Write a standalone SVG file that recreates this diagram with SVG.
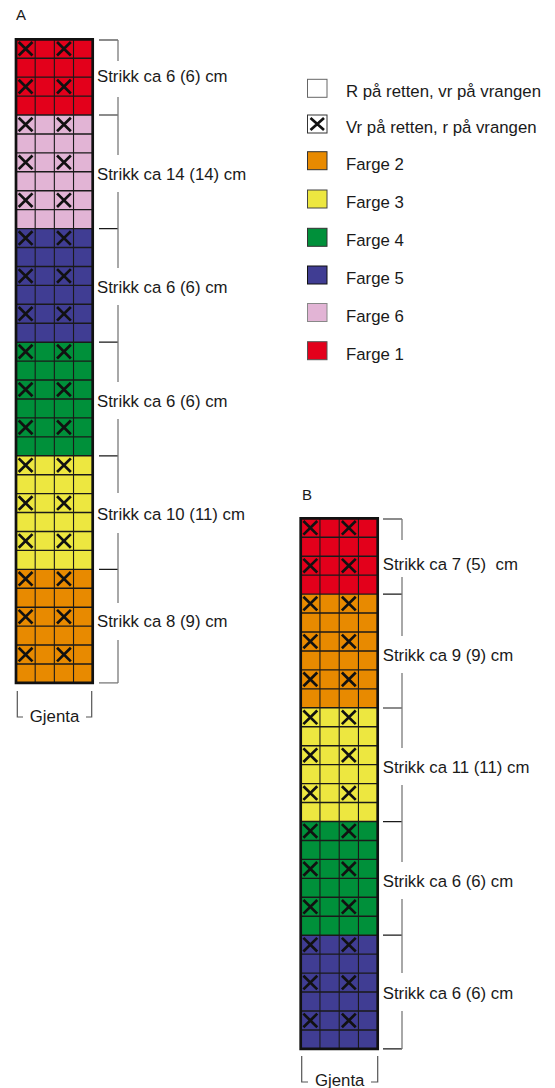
<svg xmlns="http://www.w3.org/2000/svg" xmlns:xlink="http://www.w3.org/1999/xlink" width="555" height="1088" viewBox="0 0 555 1088">
<style>
text{font-family:"Liberation Sans",Arial,sans-serif;font-size:16.8px;fill:#1a1a1a}
.c1{fill:#E3001B}.c2{fill:#E88A00}.c3{fill:#EDE740}.c4{fill:#00903A}.c5{fill:#403D93}.c6{fill:#E2B4D5}
.gh{fill:none;stroke:#1a1a1a;stroke-width:1.4}
.gv{fill:none;stroke:#1a1a1a;stroke-width:1.1}
.fr{fill:none;stroke:#111;stroke-width:2.7}
.xs{fill:none;stroke:#111;stroke-width:2.7}
.tk{fill:none;stroke:#1a1a1a;stroke-width:1.2}
.vl{fill:none;stroke:#7a7a7a;stroke-width:1.3}
.gj{fill:none;stroke:#555;stroke-width:1.2}
.lb{stroke-width:1}
</style>
<defs>
<path id="xm" d="M0.14,0.14L0.86,0.86M0.86,0.14L0.14,0.86" vector-effect="non-scaling-stroke"/>
<path id="xl" d="M3,3L16.5,15M16.5,3L3,15"/>
</defs>

<text id="labelA" x="16" y="20" style="font-size:15px">A</text>
<text id="labelB" x="302" y="500" style="font-size:15px">B</text>

<g id="chartA" transform="translate(16 39.3) scale(19.175 18.93)">
<rect class="c1" x="0" y="0" width="4" height="4"/>
<rect class="c6" x="0" y="4" width="4" height="6"/>
<rect class="c5" x="0" y="10" width="4" height="6"/>
<rect class="c4" x="0" y="16" width="4" height="6"/>
<rect class="c3" x="0" y="22" width="4" height="6"/>
<rect class="c2" x="0" y="28" width="4" height="6"/>
<path class="gh" vector-effect="non-scaling-stroke" d="M0 1H4M0 2H4M0 3H4M0 4H4M0 5H4M0 6H4M0 7H4M0 8H4M0 9H4M0 10H4M0 11H4M0 12H4M0 13H4M0 14H4M0 15H4M0 16H4M0 17H4M0 18H4M0 19H4M0 20H4M0 21H4M0 22H4M0 23H4M0 24H4M0 25H4M0 26H4M0 27H4M0 28H4M0 29H4M0 30H4M0 31H4M0 32H4M0 33H4"/>
<path class="gv" vector-effect="non-scaling-stroke" d="M1 0V34M2 0V34M3 0V34"/>
<g class="xs">
<use href="#xm" x="0" y="0"/><use href="#xm" x="2" y="0"/>
<use href="#xm" x="0" y="2"/><use href="#xm" x="2" y="2"/>
<use href="#xm" x="0" y="4"/><use href="#xm" x="2" y="4"/>
<use href="#xm" x="0" y="6"/><use href="#xm" x="2" y="6"/>
<use href="#xm" x="0" y="8"/><use href="#xm" x="2" y="8"/>
<use href="#xm" x="0" y="10"/><use href="#xm" x="2" y="10"/>
<use href="#xm" x="0" y="12"/><use href="#xm" x="2" y="12"/>
<use href="#xm" x="0" y="14"/><use href="#xm" x="2" y="14"/>
<use href="#xm" x="0" y="16"/><use href="#xm" x="2" y="16"/>
<use href="#xm" x="0" y="18"/><use href="#xm" x="2" y="18"/>
<use href="#xm" x="0" y="20"/><use href="#xm" x="2" y="20"/>
<use href="#xm" x="0" y="22"/><use href="#xm" x="2" y="22"/>
<use href="#xm" x="0" y="24"/><use href="#xm" x="2" y="24"/>
<use href="#xm" x="0" y="26"/><use href="#xm" x="2" y="26"/>
<use href="#xm" x="0" y="28"/><use href="#xm" x="2" y="28"/>
<use href="#xm" x="0" y="30"/><use href="#xm" x="2" y="30"/>
<use href="#xm" x="0" y="32"/><use href="#xm" x="2" y="32"/>
</g>
<rect class="fr" vector-effect="non-scaling-stroke" x="0" y="0" width="4" height="34"/>
</g>

<g id="chartB" transform="translate(300.7 518.3) scale(19.25 18.95)">
<rect class="c1" x="0" y="0" width="4" height="4"/>
<rect class="c2" x="0" y="4" width="4" height="6"/>
<rect class="c3" x="0" y="10" width="4" height="6"/>
<rect class="c4" x="0" y="16" width="4" height="6"/>
<rect class="c5" x="0" y="22" width="4" height="6"/>
<path class="gh" vector-effect="non-scaling-stroke" d="M0 1H4M0 2H4M0 3H4M0 4H4M0 5H4M0 6H4M0 7H4M0 8H4M0 9H4M0 10H4M0 11H4M0 12H4M0 13H4M0 14H4M0 15H4M0 16H4M0 17H4M0 18H4M0 19H4M0 20H4M0 21H4M0 22H4M0 23H4M0 24H4M0 25H4M0 26H4M0 27H4"/>
<path class="gv" vector-effect="non-scaling-stroke" d="M1 0V28M2 0V28M3 0V28"/>
<g class="xs">
<use href="#xm" x="0" y="0"/><use href="#xm" x="2" y="0"/>
<use href="#xm" x="0" y="2"/><use href="#xm" x="2" y="2"/>
<use href="#xm" x="0" y="4"/><use href="#xm" x="2" y="4"/>
<use href="#xm" x="0" y="6"/><use href="#xm" x="2" y="6"/>
<use href="#xm" x="0" y="8"/><use href="#xm" x="2" y="8"/>
<use href="#xm" x="0" y="10"/><use href="#xm" x="2" y="10"/>
<use href="#xm" x="0" y="12"/><use href="#xm" x="2" y="12"/>
<use href="#xm" x="0" y="14"/><use href="#xm" x="2" y="14"/>
<use href="#xm" x="0" y="16"/><use href="#xm" x="2" y="16"/>
<use href="#xm" x="0" y="18"/><use href="#xm" x="2" y="18"/>
<use href="#xm" x="0" y="20"/><use href="#xm" x="2" y="20"/>
<use href="#xm" x="0" y="22"/><use href="#xm" x="2" y="22"/>
<use href="#xm" x="0" y="24"/><use href="#xm" x="2" y="24"/>
<use href="#xm" x="0" y="26"/><use href="#xm" x="2" y="26"/>
</g>
<rect class="fr" vector-effect="non-scaling-stroke" x="0" y="0" width="4" height="28"/>
</g>

<g id="connectors">
<path class="tk" d="M99 40H118M99 115H118M99 228.6H118M99 342.2H118M99 455.8H118M99 569.3H118"/>
<path class="vl" d="M99 682.9H118"/>
<path class="vl" d="M118 40V61M118 97V155M118 192V268M118 305V382M118 419V493M118 533V603M118 640V682.9"/>
<path class="tk" d="M383 519H402M383 594.1H402M383 708H402M383 821.7H402M383 935.2H402M383 1048.9H402"/>
<path class="vl" d="M402 519V540M402 577V636M402 673V748M402 785V862M402 899V973M402 1011V1048.9"/>
<path class="gj" d="M17.3 691V717H23M86 717H91.7V691"/>
<path class="gj" d="M301.7 1056V1082H308M371 1082H377.7V1056"/>
</g>

<g id="labelsA">
<text x="97" y="82">Strikk ca 6 (6) cm</text>
<text x="97" y="180">Strikk ca 14 (14) cm</text>
<text x="97" y="293">Strikk ca 6 (6) cm</text>
<text x="97" y="407">Strikk ca 6 (6) cm</text>
<text x="97" y="520">Strikk ca 10 (11) cm</text>
<text x="97" y="627">Strikk ca 8 (9) cm</text>
<text x="54.5" y="722" text-anchor="middle">Gjenta</text>
</g>
<g id="labelsB">
<text x="382.7" y="570" xml:space="preserve">Strikk ca 7 (5)  cm</text>
<text x="382.7" y="661">Strikk ca 9 (9) cm</text>
<text x="382.7" y="773">Strikk ca 11 (11) cm</text>
<text x="382.7" y="887">Strikk ca 6 (6) cm</text>
<text x="382.7" y="999">Strikk ca 6 (6) cm</text>
<text x="339.7" y="1086" text-anchor="middle">Gjenta</text>
</g>

<g id="legend">
<g id="leg-r"><rect class="lb" x="307.5" y="79.3" width="19.5" height="18" fill="#fff" stroke="#666"/><text x="346" y="97">R på retten, vr på vrangen</text></g>
<g id="leg-vr"><rect class="lb" x="307.5" y="115" width="19.5" height="18" fill="#fff" stroke="#333"/><use href="#xl" x="307.5" y="115" class="xs"/><text x="346" y="133">Vr på retten, r på vrangen</text></g>
<g id="leg-2"><rect class="lb c2" x="307.5" y="151.7" width="19.5" height="18" stroke="#333"/><text x="346" y="170">Farge 2</text></g>
<g id="leg-3"><rect class="lb c3" x="307.5" y="190" width="19.5" height="18" stroke="#444"/><text x="346" y="208">Farge 3</text></g>
<g id="leg-4"><rect class="lb c4" x="307.5" y="228.3" width="19.5" height="18" stroke="#333"/><text x="346" y="246">Farge 4</text></g>
<g id="leg-5"><rect class="lb c5" x="307.5" y="266" width="19.5" height="18" stroke="#111"/><text x="346" y="284">Farge 5</text></g>
<g id="leg-6"><rect class="lb c6" x="307.5" y="303.5" width="19.5" height="18" stroke="#888"/><text x="346" y="322">Farge 6</text></g>
<g id="leg-1"><rect class="lb c1" x="307.5" y="341.7" width="19.5" height="18" stroke="#555"/><text x="346" y="360">Farge 1</text></g>
</g>
</svg>
